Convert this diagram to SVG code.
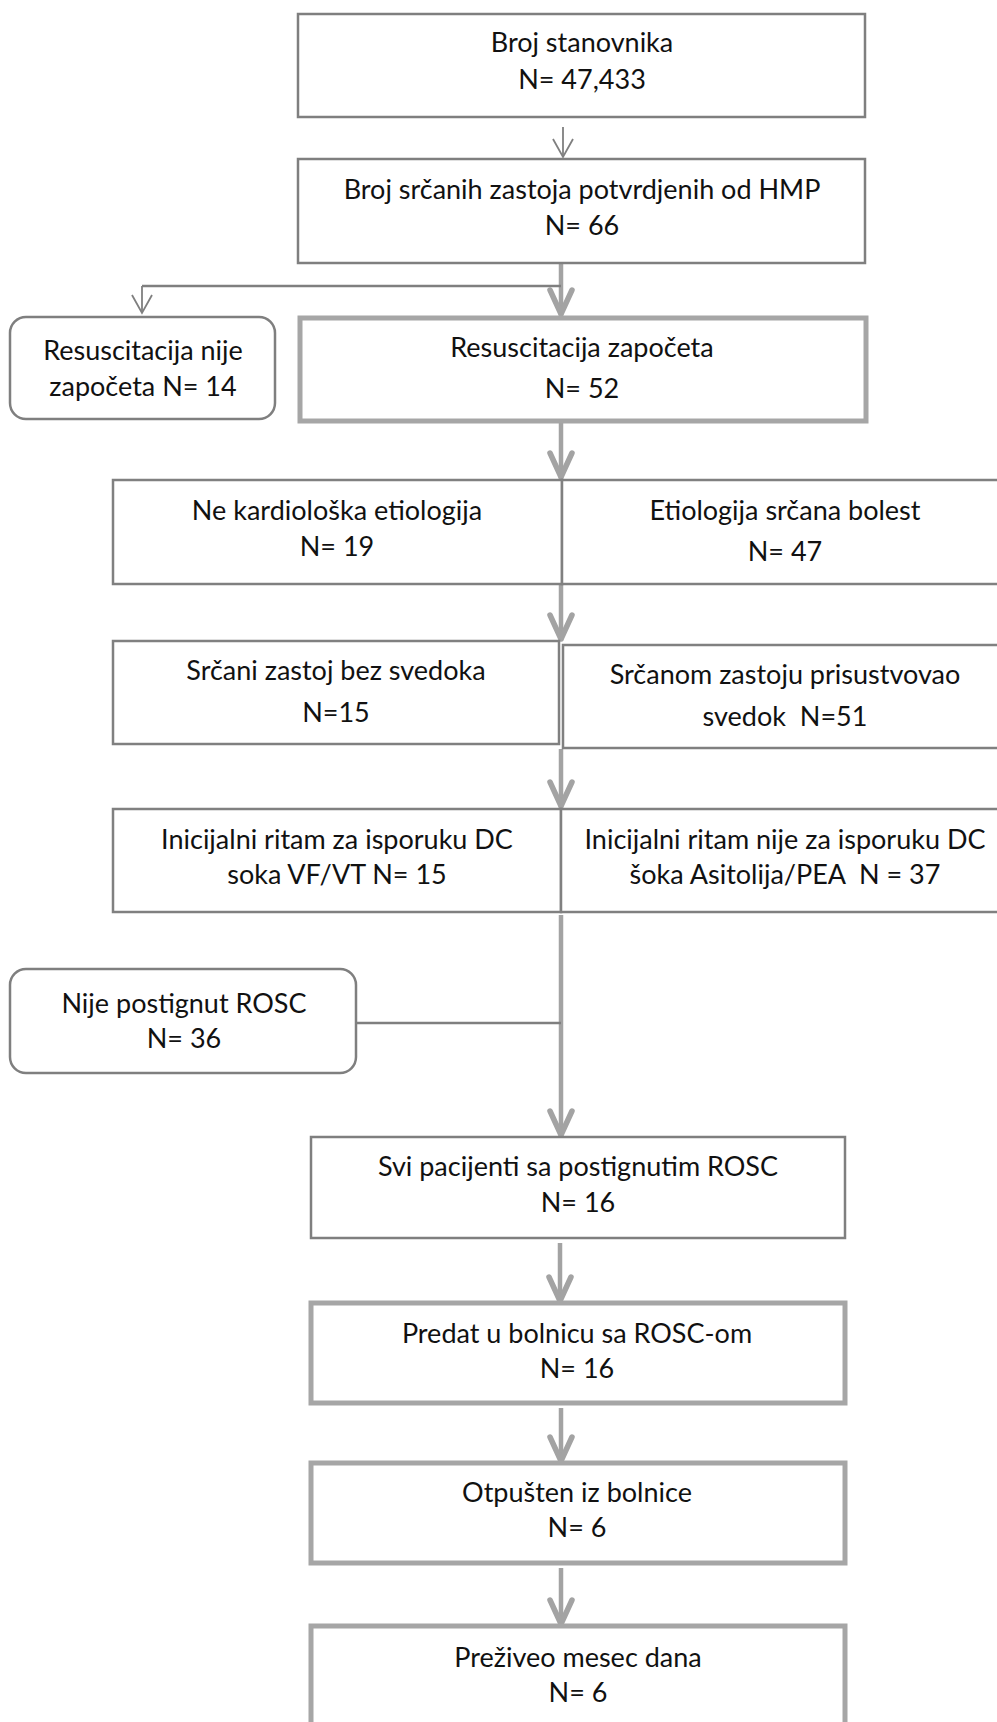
<svg xmlns="http://www.w3.org/2000/svg" width="997" height="1722" viewBox="0 0 997 1722">
<style>
  text { font-family: Lato, "Open Sans", "DejaVu Sans", sans-serif; font-size: 27px; fill: #111111; text-anchor: middle; }
  .thin { fill: #ffffff; stroke: #7f7f7f; stroke-width: 2.5; }
  .row { fill: #ffffff; stroke: #808080; stroke-width: 2.5; }
  .thick { fill: #ffffff; stroke: #a6a6a6; stroke-width: 5; }
  .round { fill: #ffffff; stroke: #7f7f7f; stroke-width: 2.5; }
  .cthin { fill: none; stroke: #7f7f7f; stroke-width: 1.8; }
  .cline { fill: none; stroke: #7f7f7f; stroke-width: 2.5; }
  .cthick { fill: none; stroke: #a3a3a3; stroke-width: 4.5; }
</style>
<defs>
  <marker id="headThin" markerUnits="userSpaceOnUse" orient="auto" overflow="visible" markerWidth="1" markerHeight="1" refX="0" refY="0">
    <path d="M-18,-10 L0,0 L-18,10" fill="none" stroke="#7f7f7f" stroke-width="1.8"/>
  </marker>
  <marker id="headThick" markerUnits="userSpaceOnUse" orient="auto" overflow="visible" markerWidth="1" markerHeight="1" refX="0" refY="0">
    <path d="M-26,-11 L-2,0 L-26,11" fill="none" stroke="#a3a3a3" stroke-width="5.5" stroke-linejoin="round" stroke-linecap="round"/>
  </marker>
</defs>

<g id="connectors">
  <line class="cthin" x1="563" y1="127" x2="563" y2="157" marker-end="url(#headThin)"/>
  <line class="cthick" x1="561" y1="262" x2="561" y2="316" marker-end="url(#headThick)"/>
  <polyline class="cline" points="561,286 142,286"/>
  <line class="cthin" x1="142" y1="286" x2="142" y2="313" marker-end="url(#headThin)"/>
  <line class="cthick" x1="561" y1="423" x2="561" y2="479" marker-end="url(#headThick)"/>
  <line class="cthick" x1="561" y1="585" x2="561" y2="641" marker-end="url(#headThick)"/>
  <line class="cthick" x1="561" y1="749" x2="561" y2="808" marker-end="url(#headThick)"/>
  <line class="cthick" x1="561" y1="915" x2="561" y2="1137" marker-end="url(#headThick)"/>
  <polyline class="cline" points="356,1023 561,1023"/>
  <line class="cthick" x1="560" y1="1243" x2="560" y2="1303" marker-end="url(#headThick)"/>
  <line class="cthick" x1="561" y1="1408" x2="561" y2="1463" marker-end="url(#headThick)"/>
  <line class="cthick" x1="561" y1="1568" x2="561" y2="1626" marker-end="url(#headThick)"/>
</g>

<g id="n1">
  <rect class="thin" x="298" y="14" width="567" height="103"/>
  <text x="582" y="52">Broj stanovnika</text>
  <text x="582" y="89">N= 47,433</text>
</g>
<g id="n2">
  <rect class="thin" x="298" y="159" width="567" height="104"/>
  <text x="582" y="199">Broj srčanih zastoja potvrdjenih od HMP</text>
  <text x="582" y="235">N= 66</text>
</g>
<g id="n3">
  <rect class="round" x="10" y="317" width="265" height="102" rx="16" ry="16"/>
  <text x="143" y="360">Resuscitacija nije</text>
  <text x="143" y="396">započeta N= 14</text>
</g>
<g id="n4">
  <rect class="thick" x="300" y="318" width="566" height="103"/>
  <text x="582" y="357">Resuscitacija započeta</text>
  <text x="582" y="398">N= 52</text>
</g>
<g id="n5">
  <rect class="row" x="113" y="480" width="449" height="104"/>
  <text x="337" y="520">Ne kardiološka etiologija</text>
  <text x="337" y="556">N= 19</text>
</g>
<g id="n6">
  <rect class="row" x="562" y="480" width="460" height="104"/>
  <text x="785" y="520">Etiologija srčana bolest</text>
  <text x="785" y="561">N= 47</text>
</g>
<g id="n7">
  <rect class="row" x="113" y="641" width="446" height="103"/>
  <text x="336" y="680">Srčani zastoj bez svedoka</text>
  <text x="336" y="722">N=15</text>
</g>
<g id="n8">
  <rect class="row" x="563" y="645" width="460" height="103"/>
  <text x="785" y="684">Srčanom zastoju prisustvovao</text>
  <text x="785" y="726" xml:space="preserve">svedok  N=51</text>
</g>
<g id="n9">
  <rect class="row" x="113" y="809" width="448" height="103"/>
  <text x="337" y="849">Inicijalni ritam za isporuku DC</text>
  <text x="337" y="884">soka VF/VT N= 15</text>
</g>
<g id="n10">
  <rect class="row" x="561" y="809" width="460" height="103"/>
  <text x="785" y="849">Inicijalni ritam nije za isporuku DC</text>
  <text x="785" y="884" xml:space="preserve">šoka Asitolija/PEA  N = 37</text>
</g>
<g id="n11">
  <rect class="round" x="10" y="969" width="346" height="104" rx="16" ry="16"/>
  <text x="184" y="1013">Nije postignut ROSC</text>
  <text x="184" y="1048">N= 36</text>
</g>
<g id="n12">
  <rect class="thin" x="311" y="1137" width="534" height="101"/>
  <text x="578" y="1176">Svi pacijenti sa postignutim ROSC</text>
  <text x="578" y="1212">N= 16</text>
</g>
<g id="n13">
  <rect class="thick" x="311" y="1303" width="534" height="100"/>
  <text x="577" y="1343">Predat u bolnicu sa ROSC-om</text>
  <text x="577" y="1378">N= 16</text>
</g>
<g id="n14">
  <rect class="thick" x="311" y="1463" width="534" height="100"/>
  <text x="577" y="1502">Otpušten iz bolnice</text>
  <text x="577" y="1537">N= 6</text>
</g>
<g id="n15">
  <rect class="thick" x="311" y="1626" width="534" height="120"/>
  <text x="578" y="1667">Preživeo mesec dana</text>
  <text x="578" y="1702">N= 6</text>
</g>
</svg>
